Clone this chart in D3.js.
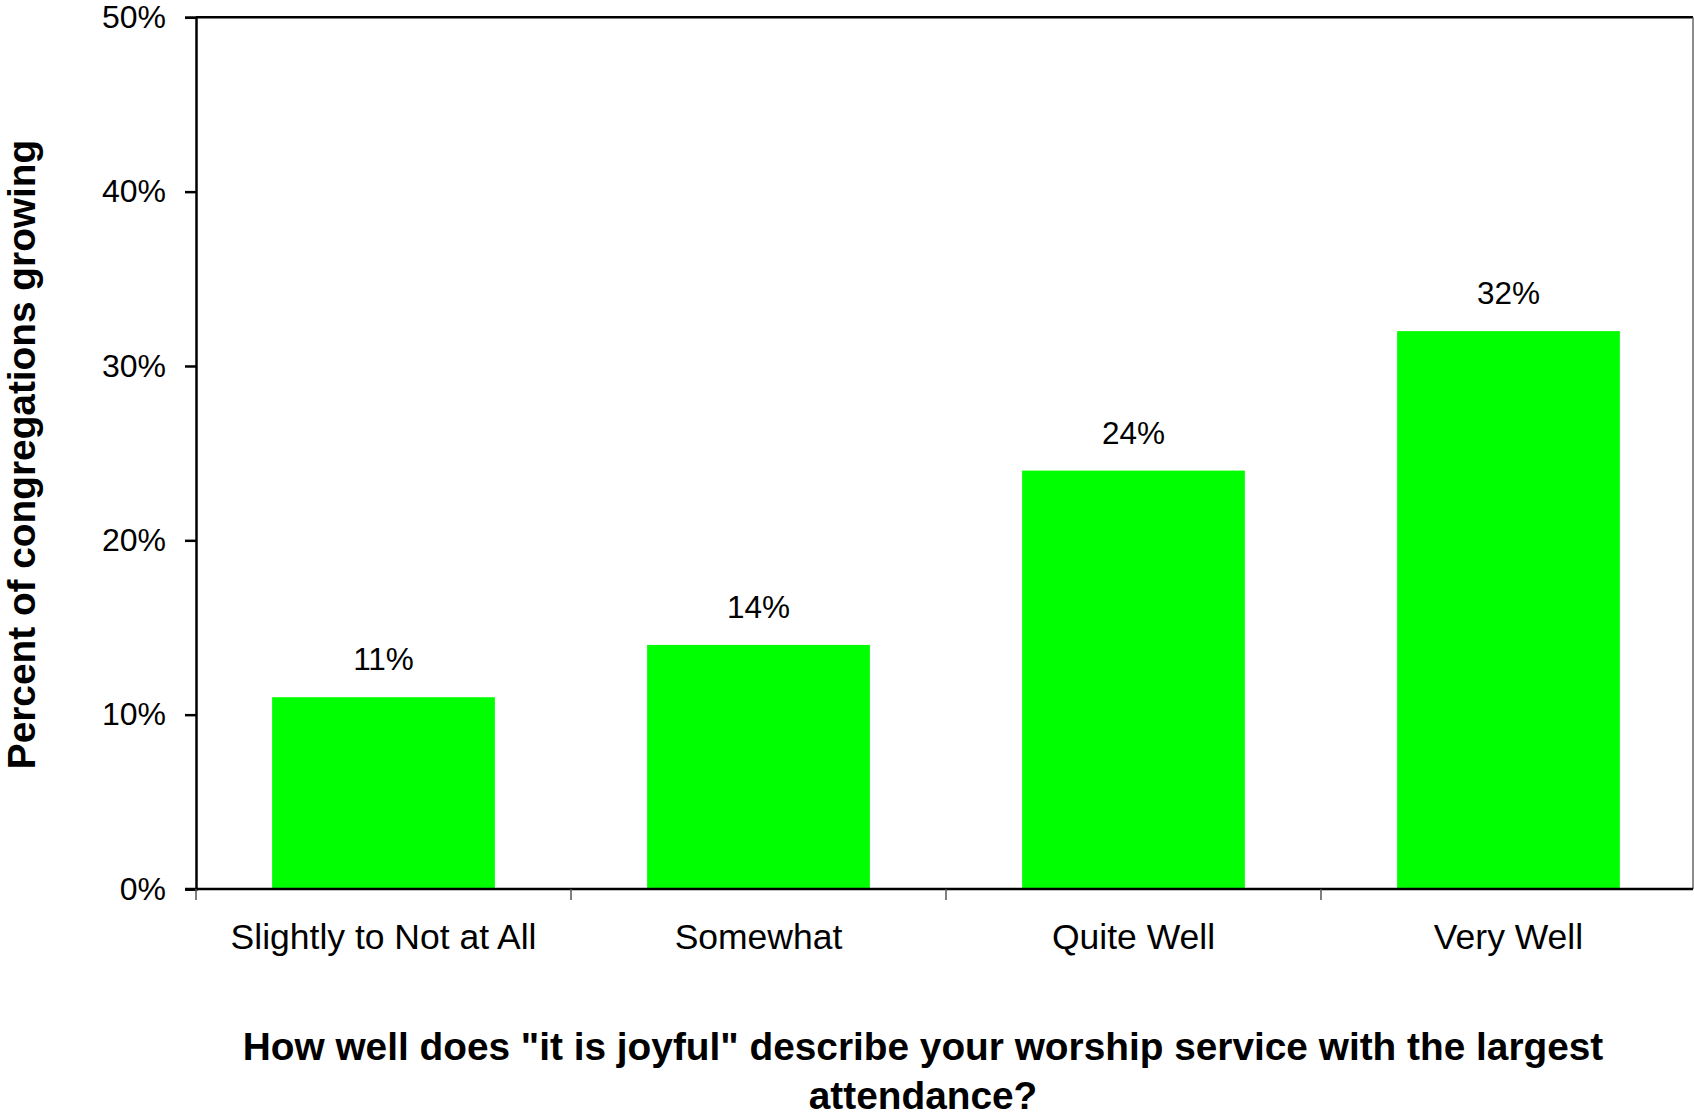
<!DOCTYPE html>
<html>
<head>
<meta charset="utf-8">
<script src="https://cdn.jsdelivr.net/npm/d3@7"></script>
<style>
  html, body { margin: 0; padding: 0; background: #fff; }
  svg { display: block; }
  text { font-family: "Liberation Sans", Arial, sans-serif; fill: #000; }
</style>
</head>
<body>
<svg id="chart" width="1694" height="1118"></svg>
<script>
const categories = ["Slightly to Not at All", "Somewhat", "Quite Well", "Very Well"];
const values = [11, 14, 24, 32];
const valueLabels = ["11%", "14%", "24%", "32%"];
const yTicks = [0, 10, 20, 30, 40, 50];
const yTickLabels = ["0%", "10%", "20%", "30%", "40%", "50%"];
const yTitle = "Percent of congregations growing";
const xTitleLines = ["How well does \"it is joyful\" describe your worship service with the largest", "attendance?"];

const svg = d3.select("#chart");
const plot = { left: 196, right: 1696, top: 17.3, bottom: 889 };
const borderRight = 1693;

const x = d3.scaleBand()
  .domain(categories)
  .range([plot.left, plot.right])
  .paddingInner(0.406)
  .paddingOuter(0.203);

const xCat = d3.scaleBand().domain(categories).range([plot.left, plot.right]).padding(0);

const y = d3.scaleLinear().domain([0, 50]).range([plot.bottom, plot.top]);

// bars
svg.append("g").selectAll("rect")
  .data(values)
  .join("rect")
  .attr("x", (d, i) => x(categories[i]))
  .attr("width", x.bandwidth())
  .attr("y", d => y(d))
  .attr("height", d => y(0) - y(d))
  .attr("fill", "#00ff00");

// value labels
svg.append("g").selectAll("text")
  .data(values)
  .join("text")
  .attr("x", (d, i) => x(categories[i]) + x.bandwidth() / 2)
  .attr("y", d => y(d) - 27)
  .attr("text-anchor", "middle")
  .style("font-size", "31.5px")
  .text((d, i) => valueLabels[i]);

// top border and right border
svg.append("line")
  .attr("x1", plot.left).attr("x2", borderRight)
  .attr("y1", plot.top).attr("y2", plot.top)
  .attr("stroke", "#000").attr("stroke-width", 2.5);
svg.append("line")
  .attr("x1", borderRight).attr("x2", borderRight)
  .attr("y1", plot.top).attr("y2", plot.bottom)
  .attr("stroke", "#666").attr("stroke-width", 1.5);

// y axis
const yAxis = d3.axisLeft(y)
  .tickValues(yTicks)
  .tickFormat((d, i) => yTickLabels[i])
  .tickSize(11)
  .tickPadding(19);
const gy = svg.append("g").attr("transform", `translate(${plot.left},0)`).call(yAxis);
gy.select(".domain").attr("stroke", "#000").attr("stroke-width", 2.5);
gy.selectAll(".tick line").attr("stroke", "#000").attr("stroke-width", 2.5);
gy.selectAll(".tick text")
  .style("font-size", "32px")
  .style("font-family", "'Liberation Sans', Arial, sans-serif")
  .attr("fill", "#000");

// x axis: ticks at category boundaries
const boundaries = categories.map(c => xCat(c));
const xAxisLine = svg.append("g");
xAxisLine.append("line")
  .attr("x1", plot.left - 11).attr("x2", borderRight)
  .attr("y1", plot.bottom).attr("y2", plot.bottom)
  .attr("stroke", "#000").attr("stroke-width", 2.5);
xAxisLine.selectAll("line.bt")
  .data(boundaries)
  .join("line")
  .attr("class", "bt")
  .attr("x1", d => d).attr("x2", d => d)
  .attr("y1", plot.bottom).attr("y2", plot.bottom + 11)
  .attr("stroke", "#555").attr("stroke-width", 1.5);

// category labels
svg.append("g").selectAll("text")
  .data(categories)
  .join("text")
  .attr("x", d => xCat(d) + xCat.bandwidth() / 2)
  .attr("y", 949)
  .attr("text-anchor", "middle")
  .style("font-size", "35.5px")
  .text(d => d);

// y title
svg.append("text")
  .attr("transform", `translate(35, 454.5) rotate(-90)`)
  .attr("text-anchor", "middle")
  .style("font-size", "38.8px")
  .style("font-weight", "bold")
  .text(yTitle);

// x title
svg.append("g").selectAll("text")
  .data(xTitleLines)
  .join("text")
  .attr("x", 923)
  .attr("y", (d, i) => 1060 + i * 49)
  .attr("text-anchor", "middle")
  .style("font-size", "38.8px")
  .style("font-weight", "bold")
  .text(d => d);
</script>
</body>
</html>
